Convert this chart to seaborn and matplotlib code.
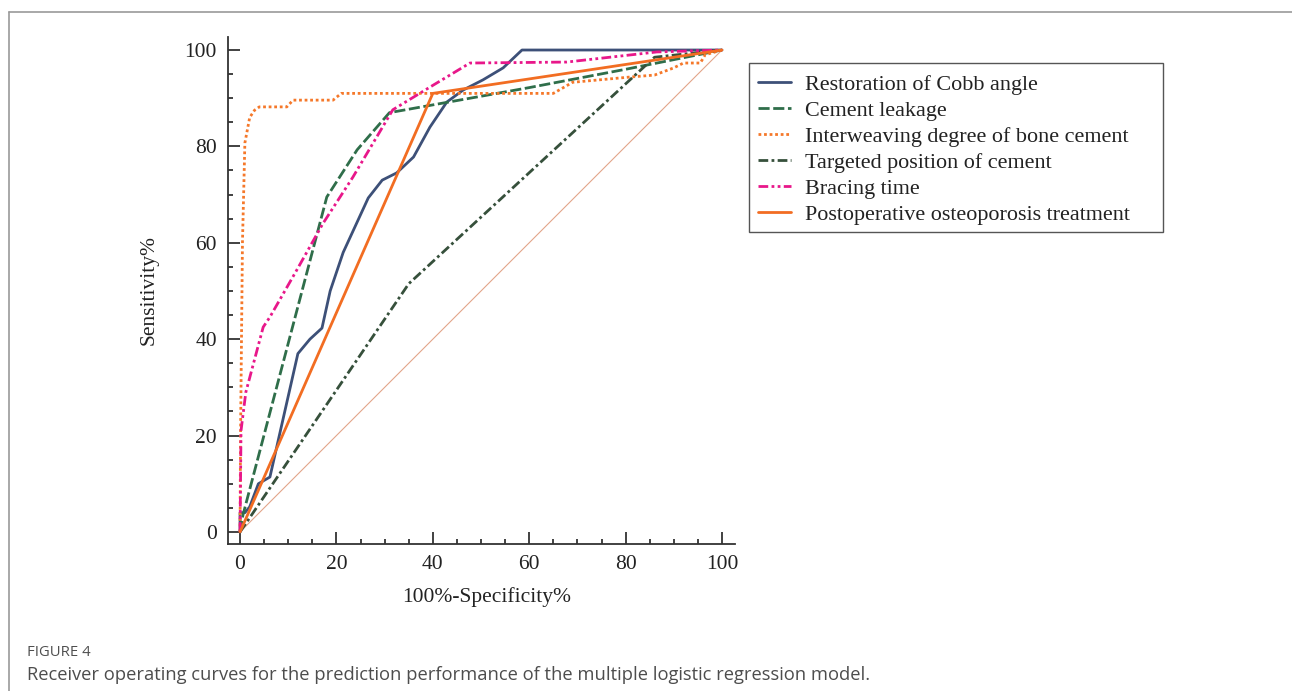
import matplotlib
matplotlib.use('Agg')
import matplotlib.pyplot as plt
from matplotlib.lines import Line2D
from matplotlib.patches import Rectangle
from matplotlib.ticker import MultipleLocator
import pandas as pd
import seaborn as sns

# ROC curves (x = 100%-Specificity%, y = Sensitivity%)
cobb_x = [0, 0, 1, 2, 3.8, 6.2, 12, 14.5, 17, 18.7, 21.4, 26.6, 29.5, 32.5,
          36, 39.4, 42.9, 46.3, 50.4, 54.6, 58.5, 100]
cobb_y = [0, 4, 4, 5.2, 10, 11.4, 37, 40, 42.3, 50, 58, 69.3, 73, 74.5,
          77.8, 84, 89.2, 91.7, 93.8, 96.3, 100, 100]

leak_x = [0, 0.6, 18, 24.3, 31, 60, 80, 100]
leak_y = [0, 3.5, 69.5, 79.3, 87, 92.2, 96, 100]

inter_x = [0, 0.1, 0.5, 1, 2, 3, 4, 9.7, 11, 19.3, 21, 65, 69, 81, 86, 90,
           92, 95.5, 96.5, 100]
inter_y = [0, 20, 60, 80.7, 86, 87.5, 88.2, 88.2, 89.6, 89.6, 91, 91, 93.3,
           94.4, 94.8, 96.3, 97.3, 97.3, 99, 100]

target_x = [0, 35, 86, 100]
target_y = [0, 51.5, 98.5, 100]

brace_x = [0, 0.2, 1.2, 4.8, 6.2, 11.8, 17.2, 23.4, 31.7, 39.4, 47.7, 67.8,
           86.5, 100]
brace_y = [0, 21, 29, 42.5, 44.6, 54.4, 64, 73.6, 87.6, 92.3, 97.3, 97.5,
           99.6, 100]

post_x = [0, 40, 100]
post_y = [0, 91, 100]

diag = [0, 100]

labels = ['Restoration of Cobb angle', 'Cement leakage',
          'Interweaving degree of bone cement', 'Targeted position of cement',
          'Bracing time', 'Postoperative osteoporosis treatment']
colors = ['#3d5078', '#2f6e4a', '#f5782a', '#36503b', '#e8178a', '#f26d22']
styles = ['-', (0, (4, 1.3)), (0, (1, 1)), (0, (3.5, 1.2, 1, 1.2)),
          (0, (3.5, 1.2, 1, 1.2, 1, 1.2)), '-']
curves = [(cobb_x, cobb_y), (leak_x, leak_y), (inter_x, inter_y),
          (target_x, target_y), (brace_x, brace_y), (post_x, post_y)]

sns.set_style('ticks')
plt.rcParams['font.family'] = ['Liberation Serif', 'DejaVu Serif']

W, H = 1292, 691
fig = plt.figure(figsize=(W / 100, H / 100), dpi=100)
ax = fig.add_axes([228 / W, 1 - 544 / H, 507 / W, 507 / H])

sns.lineplot(x=diag, y=diag, ax=ax, color='#e2a58a', lw=0.8, sort=False,
             estimator=None)
for (xs, ys), lab, col, ls in zip(curves, labels, colors, styles):
    df = pd.DataFrame({'x': xs, 'y': ys})
    sns.lineplot(data=df, x='x', y='y', ax=ax, color=col, lw=2.0,
                 linestyle=ls, sort=False, estimator=None, label=lab)

ax.set_xlim(-2.5, 102.7)
ax.set_ylim(-2.5, 102.7)
ax.xaxis.set_major_locator(MultipleLocator(20))
ax.xaxis.set_minor_locator(MultipleLocator(5))
ax.yaxis.set_major_locator(MultipleLocator(20))
ax.yaxis.set_minor_locator(MultipleLocator(5))
ax.tick_params(which='major', direction='in', length=8.5, width=1.3,
               color='#333333', labelsize=15.5, pad=8, labelcolor='#222222')
ax.tick_params(which='minor', direction='in', length=3.8, width=1.3,
               color='#333333')
for side in ['top', 'right']:
    ax.spines[side].set_visible(False)
for side in ['left', 'bottom']:
    ax.spines[side].set_color('#333333')
    ax.spines[side].set_linewidth(1.3)

ax.set_xlabel('100%-Specificity%', fontsize=15.5, color='#222222')
ax.set_ylabel('Sensitivity%', fontsize=15.5, color='#222222')
ax.xaxis.set_label_coords(0.511, -0.085)
ax.yaxis.set_label_coords(-0.136, 0.501)

leg = ax.legend(loc='upper left', bbox_to_anchor=(746 / W, 1 - 62 / H),
                bbox_transform=fig.transFigure, fontsize=15.9, frameon=False,
                handlelength=1.5, handletextpad=0.6, labelspacing=0.25,
                borderpad=0.55, borderaxespad=0)
for t in leg.get_texts():
    t.set_color('#222222')

# legend box drawn separately: the original has extra room on the right
fig.add_artist(Rectangle((749 / W, 1 - 232 / H), (1163 - 749) / W,
                         (232 - 63) / H, transform=fig.transFigure,
                         fill=False, edgecolor='#555555', lw=1.0))

# thin grey frame around the figure panel
fig.add_artist(Line2D([9 / W, 1], [1 - 12 / H, 1 - 12 / H],
                      transform=fig.transFigure, color='#9a9a9a', lw=1.2))
fig.add_artist(Line2D([9 / W, 9 / W], [0, 1 - 12 / H],
                      transform=fig.transFigure, color='#9a9a9a', lw=1.2))

fig.text(27 / W, 1 - 652 / H, 'FIGURE 4', fontsize=10.7, color='#4f4f4f',
         va='center', family=['Open Sans', 'DejaVu Sans'])
fig.text(27 / W, 1 - 675 / H,
         'Receiver operating curves for the prediction performance of the '
         'multiple logistic regression model.',
         fontsize=13.2, color='#4d4d4d', va='center',
         family=['Open Sans', 'DejaVu Sans'])

plt.savefig('out.png', dpi=100)
